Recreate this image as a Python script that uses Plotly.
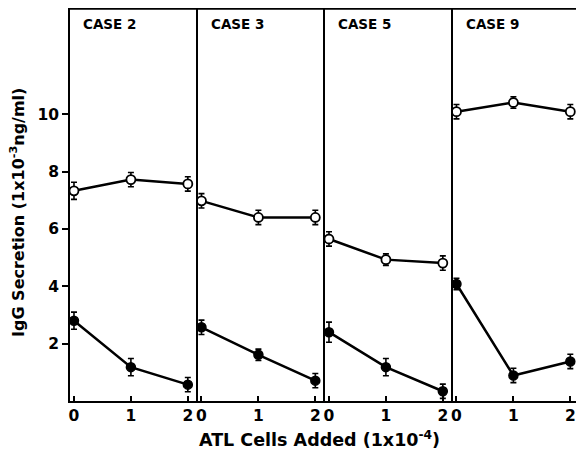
import plotly.graph_objects as go
from plotly.subplots import make_subplots

cases = ["CASE 2", "CASE 3", "CASE 5", "CASE 9"]
atl_cells = [0, 1, 2]
control_open = [
    [7.33, 7.72, 7.57],
    [6.98, 6.40, 6.40],
    [5.65, 4.93, 4.81],
    [10.09, 10.41, 10.09],
]
control_open_err = [
    [0.3, 0.25, 0.25],
    [0.25, 0.25, 0.25],
    [0.25, 0.2, 0.25],
    [0.25, 0.2, 0.25],
]
treated_filled = [
    [2.80, 1.18, 0.57],
    [2.57, 1.61, 0.71],
    [2.40, 1.18, 0.34],
    [4.08, 0.89, 1.38],
]
treated_filled_err = [
    [0.3, 0.3, 0.25],
    [0.25, 0.2, 0.25],
    [0.35, 0.3, 0.25],
    [0.2, 0.25, 0.25],
]
y_ticks = [2, 4, 6, 8, 10]

FONT = "DejaVu Sans, Liberation Sans, Arial, sans-serif"

fig = make_subplots(rows=1, cols=4, shared_yaxes=True, horizontal_spacing=0)

for i in range(4):
    col = i + 1
    fig.add_trace(go.Scatter(
        x=atl_cells, y=treated_filled[i], mode="lines+markers",
        line=dict(color="black", width=2.5),
        marker=dict(symbol="circle", size=9, color="black", line=dict(color="black", width=1.5)),
        error_y=dict(type="data", array=treated_filled_err[i], color="black", thickness=1.6, width=3),
        showlegend=False), row=1, col=col)
    fig.add_trace(go.Scatter(
        x=atl_cells, y=control_open[i], mode="lines+markers",
        line=dict(color="black", width=2.5),
        marker=dict(symbol="circle", size=9, color="white", line=dict(color="black", width=1.8)),
        error_y=dict(type="data", array=control_open_err[i], color="black", thickness=1.6, width=3),
        showlegend=False), row=1, col=col)
    fig.update_xaxes(
        range=[-0.07, 2.17], tickvals=atl_cells, ticktext=[str(v) for v in atl_cells],
        ticks="inside", ticklen=5, tickwidth=1.5, tickcolor="black",
        showline=True, linecolor="black", linewidth=1.5, mirror=True,
        showgrid=False, zeroline=False,
        tickfont=dict(family=FONT, size=15.5, color="black", weight="bold"),
        row=1, col=col)
    fig.update_yaxes(
        range=[0, 13.67], tickvals=y_ticks, showgrid=False, zeroline=False,
        showline=True, linecolor="black", linewidth=1.5,
        mirror=(col == 4),
        ticks="outside" if col == 1 else "", ticklen=6, tickwidth=1.5, tickcolor="black",
        tickfont=dict(family=FONT, size=15.5, color="black", weight="bold"),
        row=1, col=col)
    xref = "x domain" if col == 1 else f"x{col} domain"
    yref = "y domain" if col == 1 else f"y{col} domain"
    fig.add_annotation(text=cases[i], xref=xref, yref=yref, x=0.09, y=0.963,
                       xanchor="left", yanchor="middle", showarrow=False,
                       font=dict(family=FONT, size=13.5, color="black", weight="bold"))

# top frame line
fig.add_shape(type="line", xref="paper", yref="paper", x0=0, x1=1, y0=1, y1=1,
              line=dict(color="black", width=1.5))

fig.add_annotation(text="IgG Secretion (1x10<sup>-3</sup>ng/ml)", textangle=-90,
                   xref="paper", yref="paper", x=0, y=0.5, xshift=-53, yshift=-8,
                   xanchor="center", yanchor="middle", showarrow=False,
                   font=dict(family=FONT, size=16, color="black", weight="bold"))

fig.add_annotation(text="ATL Cells Added (1x10<sup>-4</sup>)", xref="paper", yref="paper",
                   x=0.5, y=0, xshift=-6, yshift=-38, xanchor="center", yanchor="middle",
                   showarrow=False,
                   font=dict(family=FONT, size=17.5, color="black", weight="bold"))

fig.update_layout(
    width=576, height=452,
    margin=dict(l=62, r=4, t=1, b=59, autoexpand=False),
    paper_bgcolor="white", plot_bgcolor="white",
)

fig.write_html("out.html")
